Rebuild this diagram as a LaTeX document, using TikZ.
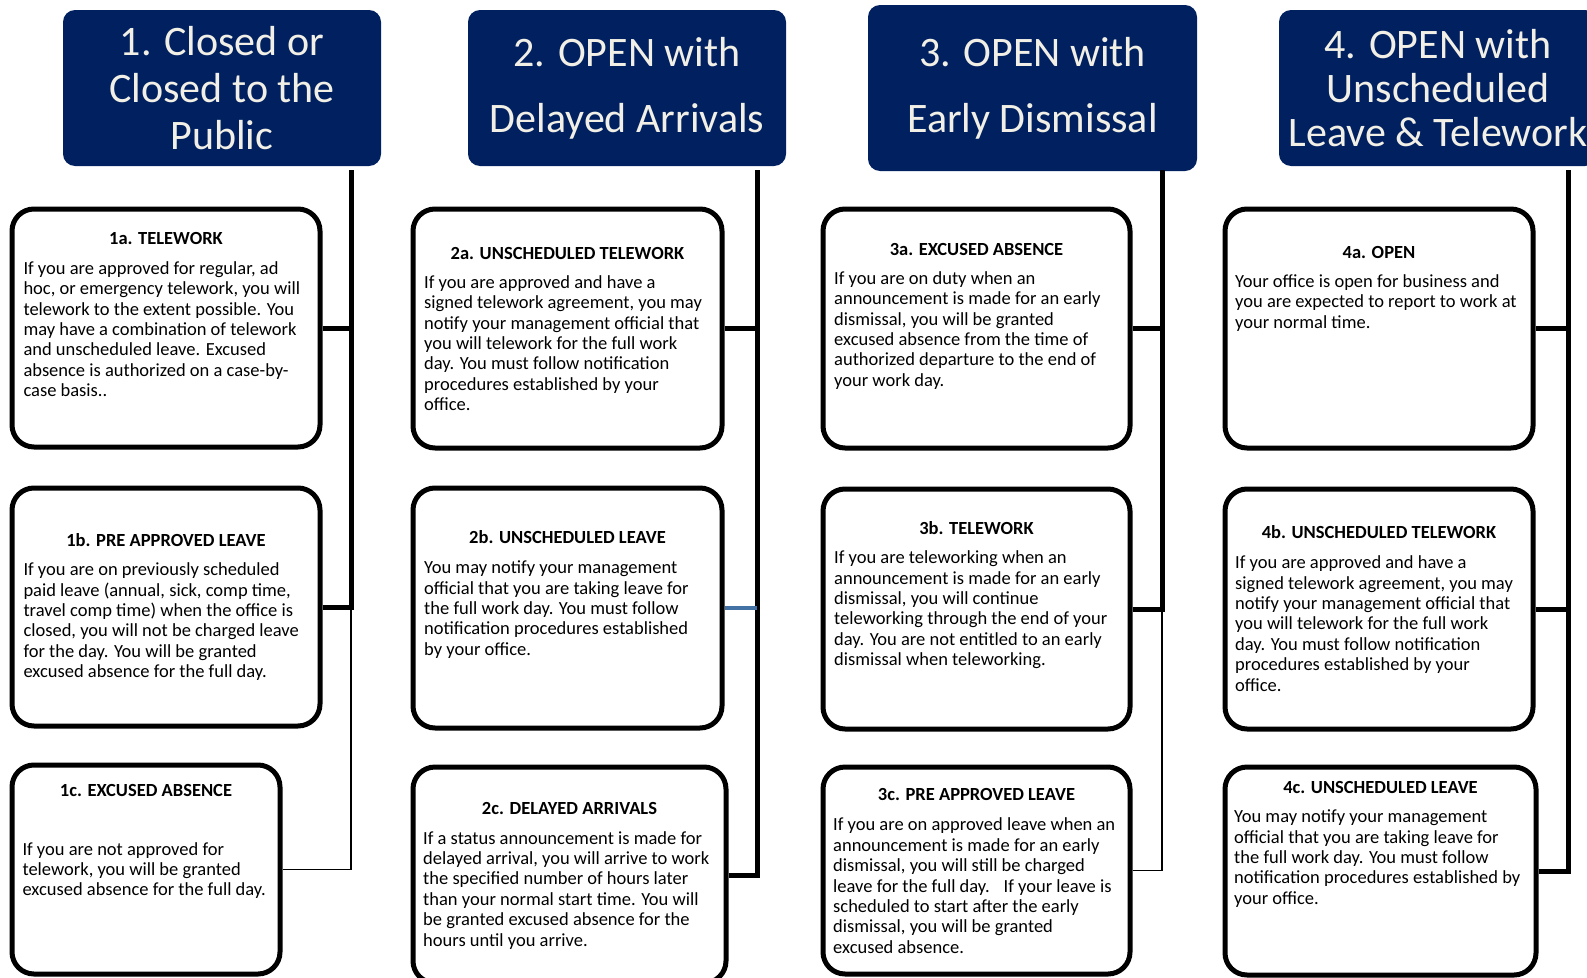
\documentclass[tikz,border=0pt]{standalone}
\usepackage{fontspec}
\setmainfont{Carlito}
\definecolor{navy}{RGB}{0,32,96}
\definecolor{hdrtext}{RGB}{242,240,230}
\definecolor{linkblue}{RGB}{68,114,164}
\begin{document}
\nonfrenchspacing
\begin{tikzpicture}[x=1pt,y=-1pt,
  hdr/.style={fill=navy, rounded corners=12pt, text=hdrtext, align=center, inner sep=0pt},
  card/.style={draw=black, line width=5pt, rounded corners=22pt, fill=white, inner sep=0pt},
  ttl/.style={font=\bfseries\fontsize{18.5}{20.4}\selectfont, inner sep=0pt, anchor=center},
  bodytext/.style={font=\fontsize{18.5}{20.4}\selectfont, align=left, inner sep=0pt, anchor=north west},
  link/.style={line width=5pt, draw=black},
  slimlink/.style={line width=1.5pt, draw=black},
  bluelink/.style={line width=4pt, draw=linkblue}]
\useasboundingbox[fill=white] (0,0) rectangle (1587,977);

% headers
\node[hdr, minimum width=318pt, minimum height=156pt, font=\fontsize{42}{47}\selectfont] (h1) at (222,88) {1. Closed or\\Closed to the\\Public};
\node[hdr, minimum width=318pt, minimum height=156pt, font=\fontsize{42}{65.7}\selectfont] (h2) at (627,88) {\raisebox{-2pt}{2. OPEN with}\\\raisebox{-2pt}{Delayed Arrivals}};
\node[hdr, minimum width=329pt, minimum height=166pt, font=\fontsize{42}{65.7}\selectfont] (h3) at (1032.5,88) {\raisebox{-2pt}{3. OPEN with}\\\raisebox{-2pt}{Early Dismissal}};
\node[hdr, minimum width=318pt, minimum height=156pt, font=\fontsize{42}{44}\selectfont] (h4) at (1438,88) {4. OPEN with\\Unscheduled\\Leave \& Telework};

% cards
\node[card, minimum width=308pt, minimum height=238pt] (b1a) at (166,328) {};
\node[card, minimum width=308pt, minimum height=238pt] (b1b) at (166,607) {};
\node[card, minimum width=268pt, minimum height=209pt] (b1c) at (146,869.5) {};
\node[card, minimum width=309pt, minimum height=239pt] (b2a) at (567.5,328.5) {};
\node[card, minimum width=309pt, minimum height=240pt] (b2b) at (567.5,608) {};
\node[card, minimum width=313pt, minimum height=216pt] (b2c) at (569.5,875) {};
\node[card, minimum width=307pt, minimum height=239pt] (b3a) at (976.5,328.5) {};
\node[card, minimum width=307pt, minimum height=240pt] (b3b) at (976.5,609) {};
\node[card, minimum width=307pt, minimum height=207pt] (b3c) at (976.5,870.5) {};
\node[card, minimum width=308pt, minimum height=239pt] (b4a) at (1379,328.5) {};
\node[card, minimum width=308pt, minimum height=240pt] (b4b) at (1379,609) {};
\node[card, minimum width=311pt, minimum height=208pt] (b4c) at (1380.5,871) {};

% titles
\node[ttl] (n1a) at (166,238) {1a. TELEWORK};
\node[ttl] (n1b) at (166,540.4) {1b. PRE APPROVED LEAVE};
\node[ttl] (n1c) at (146,790.4) {1c. EXCUSED ABSENCE};
\node[ttl] (n2a) at (567.5,253) {2a. UNSCHEDULED TELEWORK};
\node[ttl] (n2b) at (567.5,537.4) {2b. UNSCHEDULED LEAVE};
\node[ttl] (n2c) at (569.5,808.6) {2c. DELAYED ARRIVALS};
\node[ttl] (n3a) at (976.5,249) {3a. EXCUSED ABSENCE};
\node[ttl] (n3b) at (976.5,528.3) {3b. TELEWORK};
\node[ttl] (n3c) at (976.5,794.5) {3c. PRE APPROVED LEAVE};
\node[ttl] (n4a) at (1379,252) {4a. OPEN};
\node[ttl] (n4b) at (1379,532.3) {4b. UNSCHEDULED TELEWORK};
\node[ttl] (n4c) at (1380.5,787.4) {4c. UNSCHEDULED LEAVE};

% bodies
\node[bodytext] (d1a) at (23.3,261.2) {If you are approved for regular, ad\\hoc, or emergency telework, you will\\telework to the extent possible. You\\may have a combination of telework\\and unscheduled leave.  Excused\\absence is authorized on a case-by-\\case basis..};
\node[bodytext] (d1b) at (23.3,562.7) {If you are on previously scheduled\\paid leave (annual, sick, comp time,\\travel comp time) when the office is\\closed, you will not be charged leave\\for the day.  You will be granted\\excused absence for the full day.};
\node[bodytext] (d1c) at (22.3,842.1) {If you are not approved for\\telework, you will be granted\\excused absence for the full day.};
\node[bodytext] (d2a) at (424,275.3) {If you are approved and have a\\signed telework agreement, you may\\notify your management official that\\you will telework for the full work\\day.  You must follow notification\\procedures established by your\\office.};
\node[bodytext] (d2b) at (424,560.7) {You may notify your management\\official that you are taking leave for\\the full work day.  You must follow\\notification procedures established\\by your office.};
\node[bodytext] (d2c) at (423,831) {If a status announcement is made for\\delayed arrival, you will arrive to work\\the specified number of hours later\\than your normal start time.  You will\\be granted excused absence for the\\hours until you arrive.};
\node[bodytext] (d3a) at (834,271.3) {If you are on duty when an\\announcement is made for an early\\dismissal, you will be granted\\excused absence from the time of\\authorized departure to the end of\\your work day.};
\node[bodytext] (d3b) at (834,550.6) {If you are teleworking when an\\announcement is made for an early\\dismissal, you will continue\\teleworking through the end of your\\day.  You are not entitled to an early\\dismissal when teleworking.};
\node[bodytext] (d3c) at (833,817.8) {If you are on approved leave when an\\announcement is made for an early\\dismissal, you will still be charged\\leave for the full day. \ \ If your leave is\\scheduled to start after the early\\dismissal, you will be granted\\excused absence.};
\node[bodytext] (d4a) at (1235,274.3) {Your office is open for business and\\you are expected to report to work at\\your normal time.};
\node[bodytext] (d4b) at (1235,555.7) {If you are approved and have a\\signed telework agreement, you may\\notify your management official that\\you will telework for the full work\\day.  You must follow notification\\procedures established by your\\office.};
\node[bodytext] (d4c) at (1234,809.7) {You may notify your management\\official that you are taking leave for\\the full work day.  You must follow\\notification procedures established by\\your office.};

% trunks
\coordinate (tr1) at (351,170);
\coordinate (tr2) at (757,170);
\coordinate (tr3) at (1162,170);
\coordinate (tr4) at (1568,170);

% column 1
\draw[link] (tr1) -- (b1b.east -| tr1) -- (b1b.east);
\draw[link] (b1a.east) -- (b1a.east -| tr1);
\draw[slimlink] (b1b.east -| tr1) -- (b1c.east -| tr1) -- (b1c.east);
% column 2
\draw[link] (tr2) -- (b2c.east -| tr2) -- (b2c.east);
\draw[link] (b2a.east) -- (b2a.east -| tr2);
\draw[bluelink] (b2b.east) -- (b2b.east -| tr2);
% column 3
\draw[link] (tr3) -- (b3b.east -| tr3) -- (b3b.east);
\draw[link] (b3a.east) -- (b3a.east -| tr3);
\draw[slimlink] (b3b.east -| tr3) -- (b3c.east -| tr3) -- (b3c.east);
% column 4
\draw[link] (tr4) -- (b4c.east -| tr4) -- (b4c.east);
\draw[link] (b4a.east) -- (b4a.east -| tr4);
\draw[link] (b4b.east) -- (b4b.east -| tr4);
\end{tikzpicture}
\end{document}
